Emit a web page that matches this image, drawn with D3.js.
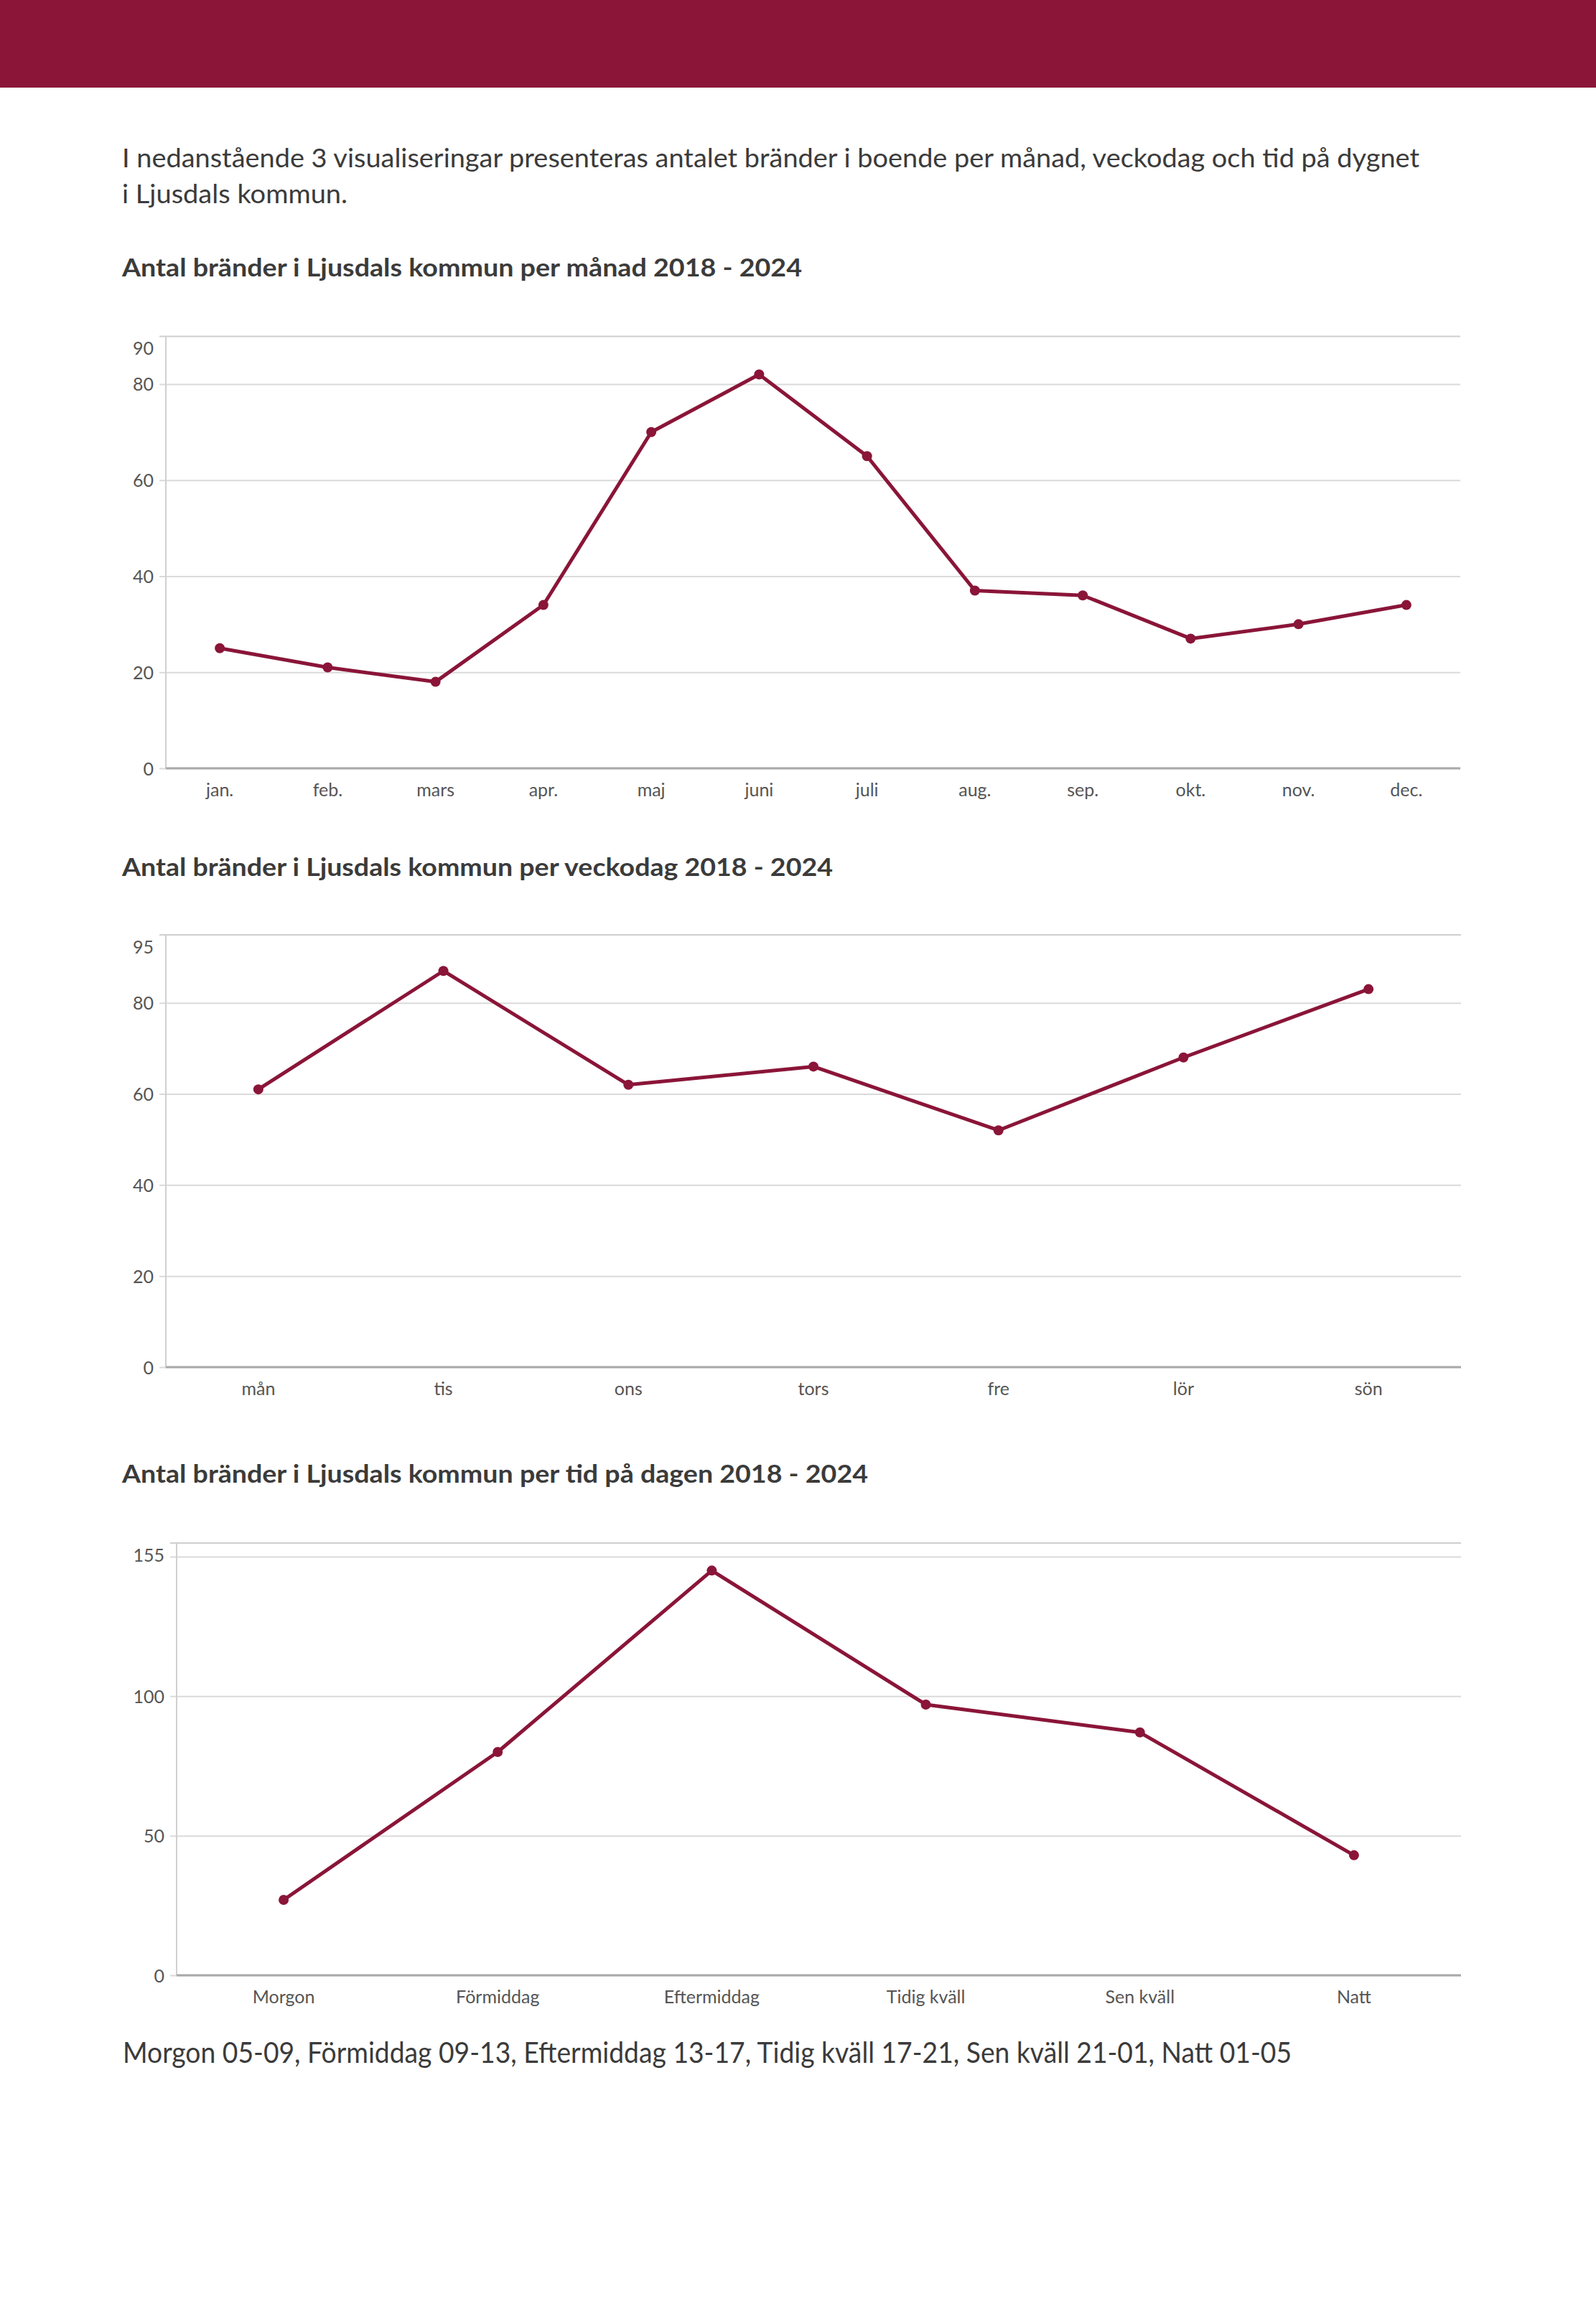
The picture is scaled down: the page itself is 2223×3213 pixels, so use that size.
<!DOCTYPE html>
<html>
<head>
<meta charset="utf-8">
<script src="https://cdn.jsdelivr.net/npm/d3@7"></script>
<style>
  html, body { margin: 0; padding: 0; background: #fff; }
  svg { display: block; }
</style>
</head>
<body>
<svg id="page" width="2223" height="3213"></svg>
<script>
// ---------------- DATA ----------------
const monthLabels = ["jan.", "feb.", "mars", "apr.", "maj", "juni", "juli", "aug.", "sep.", "okt.", "nov.", "dec."];
const monthValues = [25, 21, 18, 34, 70, 82, 65, 37, 36, 27, 30, 34];
const monthGridTicks = [0, 20, 40, 60, 80, 90];
const monthLabelTicks = [0, 20, 40, 60, 80, 90];
const monthMax = 90;

const dayLabels = ["mån", "tis", "ons", "tors", "fre", "lör", "sön"];
const dayValues = [61, 87, 62, 66, 52, 68, 83];
const dayGridTicks = [0, 20, 40, 60, 80, 95];
const dayLabelTicks = [0, 20, 40, 60, 80, 95];
const dayMax = 95;

const timeLabels = ["Morgon", "Förmiddag", "Eftermiddag", "Tidig kväll", "Sen kväll", "Natt"];
const timeValues = [27, 80, 145, 97, 87, 43];
const timeGridTicks = [0, 50, 100, 150, 155];
const timeLabelTicks = [0, 50, 100, 155];
const timeMax = 155;

const introLines = [
  "I nedanstående 3 visualiseringar presenteras antalet bränder i boende per månad, veckodag och tid på dygnet",
  "i Ljusdals kommun."
];
const chartTitles = [
  "Antal bränder i Ljusdals kommun per månad 2018 - 2024",
  "Antal bränder i Ljusdals kommun per veckodag 2018 - 2024",
  "Antal bränder i Ljusdals kommun per tid på dagen 2018 - 2024"
];
const footerText = "Morgon 05-09, Förmiddag 09-13, Eftermiddag 13-17, Tidig kväll 17-21, Sen kväll 21-01, Natt 01-05";

// ---------------- STYLE / LAYOUT ----------------
const FONT = "Lato, 'Open Sans', sans-serif";
const WINE = "#8a1538";
const TEXT = "#3b3b3b";
const TICKTEXT = "#555555";

const svg = d3.select("#page");

// header band
svg.append("rect").attr("x", 0).attr("y", 0).attr("width", 2223).attr("height", 122).attr("fill", WINE);

function fitText(sel, target) {
  const w = sel.node().getComputedTextLength();
  if (Math.abs(w - target) > 3) {
    sel.attr("textLength", target).attr("lengthAdjust", "spacingAndGlyphs");
  }
}

// intro text
const introLayout = [{ y: 233, w: 1807 }, { y: 283, w: 314 }];
introLines.forEach((t, i) => {
  const s = svg.append("text").attr("x", 170).attr("y", introLayout[i].y)
    .attr("font-family", FONT).attr("font-size", 36).attr("fill", TEXT).text(t);
  fitText(s, introLayout[i].w);
});

// titles
const titleLayout = [{ y: 385, w: 947 }, { y: 1220, w: 990 }, { y: 2065, w: 1039 }];
chartTitles.forEach((t, i) => {
  const s = svg.append("text").attr("x", 170).attr("y", titleLayout[i].y)
    .attr("font-family", FONT).attr("font-weight", 700).attr("font-size", 34).attr("fill", TEXT).text(t);
  fitText(s, titleLayout[i].w);
});

// footer
{
  const s = svg.append("text").attr("x", 171).attr("y", 2873)
    .attr("font-family", FONT).attr("font-size", 40).attr("fill", TEXT).text(footerText);
  fitText(s, 1628);
}

// ---------------- CHART FUNCTION ----------------
function drawChart(opts) {
  const { left, right, top, bottom, labels, values, max, gridTicks, labelTicks } = opts;
  const g = svg.append("g");

  const x = d3.scaleBand().domain(labels).range([left, right]).padding(0);
  const y = d3.scaleLinear().domain([0, max]).range([bottom, top]);
  const w = right - left;

  // gridlines (with small outer tick)
  const grid = g.append("g").attr("transform", `translate(${left},0)`)
    .call(d3.axisLeft(y).tickValues(gridTicks).tickSize(-w).tickFormat(""));
  grid.select(".domain").remove();
  grid.selectAll(".tick line")
    .attr("x1", -9)
    .attr("stroke", d => d === max ? "#cfcfcf" : "#dadada")
    .attr("stroke-width", 2);

  // y axis line
  g.append("line").attr("x1", left).attr("x2", left).attr("y1", top).attr("y2", bottom)
    .attr("stroke", "#d0d0d0").attr("stroke-width", 2);

  // y labels
  const yl = g.append("g").attr("transform", `translate(${left},0)`)
    .call(d3.axisLeft(y).tickValues(labelTicks).tickSize(0).tickPadding(17));
  yl.select(".domain").remove();
  yl.selectAll(".tick text")
    .attr("font-family", FONT).attr("font-size", 25).attr("fill", TICKTEXT)
    .attr("dy", d => d === max ? "1.02em" : "0.36em");

  // x axis line
  g.append("line").attr("x1", left).attr("x2", right).attr("y1", bottom).attr("y2", bottom)
    .attr("stroke", "#a9a9a9").attr("stroke-width", 3);

  // x labels
  const xl = g.append("g").attr("transform", `translate(0,${bottom})`)
    .call(d3.axisBottom(x).tickSize(0).tickPadding(21));
  xl.select(".domain").remove();
  xl.selectAll(".tick text")
    .attr("font-family", FONT).attr("font-size", 25).attr("fill", TICKTEXT);

  // line
  const pts = labels.map((l, i) => ({ l, v: values[i] }));
  const line = d3.line().x(d => x(d.l) + x.bandwidth() / 2).y(d => y(d.v));
  g.append("path").datum(pts).attr("d", line)
    .attr("fill", "none").attr("stroke", WINE).attr("stroke-width", 5)
    .attr("stroke-linejoin", "round");
  g.selectAll("circle.pt").data(pts).join("circle").attr("class", "pt")
    .attr("cx", d => x(d.l) + x.bandwidth() / 2).attr("cy", d => y(d.v))
    .attr("r", 7).attr("fill", WINE);
}

drawChart({ left: 231, right: 2034, top: 468, bottom: 1070,
  labels: monthLabels, values: monthValues, max: monthMax,
  gridTicks: monthGridTicks, labelTicks: monthLabelTicks });

drawChart({ left: 231, right: 2035, top: 1301.5, bottom: 1904,
  labels: dayLabels, values: dayValues, max: dayMax,
  gridTicks: dayGridTicks, labelTicks: dayLabelTicks });

drawChart({ left: 246, right: 2035, top: 2148.5, bottom: 2751,
  labels: timeLabels, values: timeValues, max: timeMax,
  gridTicks: timeGridTicks, labelTicks: timeLabelTicks });
</script>
</body>
</html>
